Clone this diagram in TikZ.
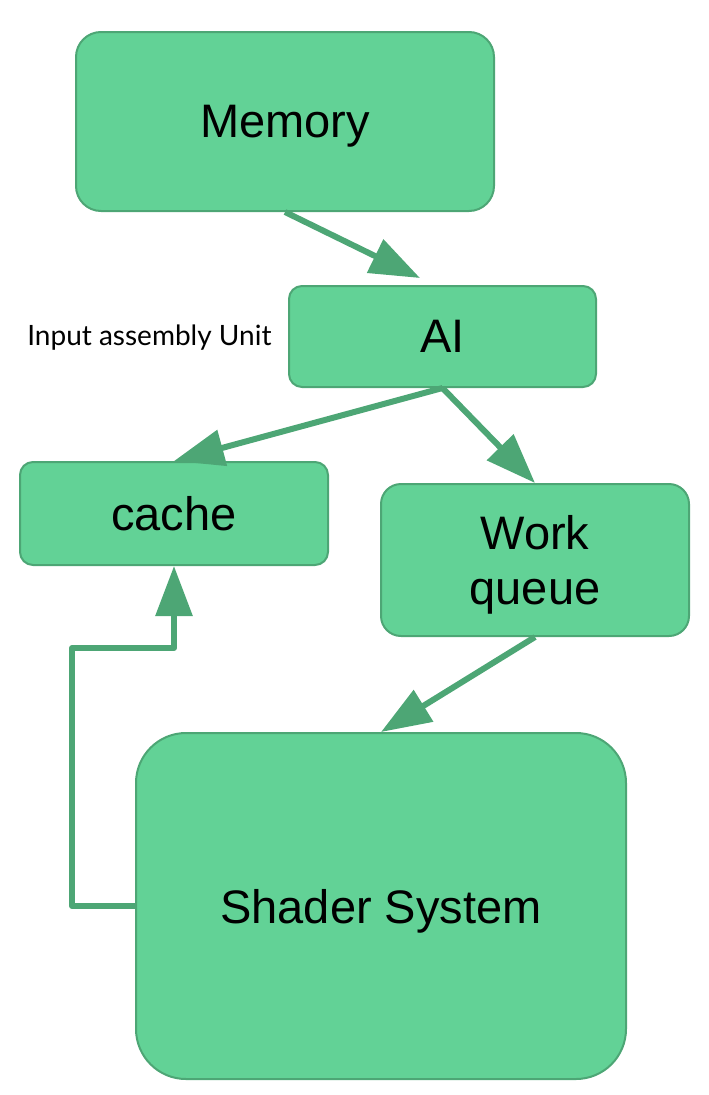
\documentclass[tikz,border=0pt]{standalone}
\usepackage{fontspec}
\setmainfont{Liberation Sans}
\newfontfamily\labelfont{Lato}
\usetikzlibrary{arrows.meta}

\definecolor{boxfill}{HTML}{62D296}
\definecolor{boxline}{HTML}{4DA675}

\tikzset{
	unitbox/.style={draw=boxline, fill=boxfill, line width=2pt, inner sep=0pt,
		align=center, text depth=0pt, font=\fontsize{47}{55}\selectfont},
	flow/.style={draw=boxline, line width=6pt, -{Triangle[length=50pt,width=36pt]}}
}

\begin{document}
\begin{tikzpicture}[x=1pt,y=-1pt]

	\useasboundingbox (0,0) rectangle (709,1095);

	% Boxes
	\node[unitbox, minimum width=418pt, minimum height=179pt, rounded corners=25pt] (Memory) at (285,121.5) {Memory};
	\node[unitbox, minimum width=307pt, minimum height=101pt, rounded corners=13pt] (AI) at (442.5,336.5) {AI};
	\node[unitbox, minimum width=308pt, minimum height=103pt, rounded corners=13pt] (Cache) at (174,513.5) {cache};
	\node[unitbox, minimum width=308pt, minimum height=152pt, rounded corners=20pt] (Queue) at (535,560) {Work\\queue};
	\node[unitbox, minimum width=490pt, minimum height=346pt, rounded corners=50pt] (Shader) at (381,906) {Shader System};

	% Label
	\node[font=\labelfont\fontsize{28}{32}\selectfont, anchor=east] (AIlabel) at (275,338) {Input assembly Unit};

	% Arrows
	\coordinate (MemTip) at (420,278);
	\draw[flow] (Memory.south) -- (MemTip);
	\draw[flow] (AI.south) -- (Cache.north);
	\draw[flow] (AI.south) -- (Queue.north);
	\draw[flow] (Queue.south) -- (Shader.north);
	\draw[flow, line join=round] (Shader.west) -- (72,906) -- (72,648) -- (174,648) -- (Cache.south);

\end{tikzpicture}
\end{document}
